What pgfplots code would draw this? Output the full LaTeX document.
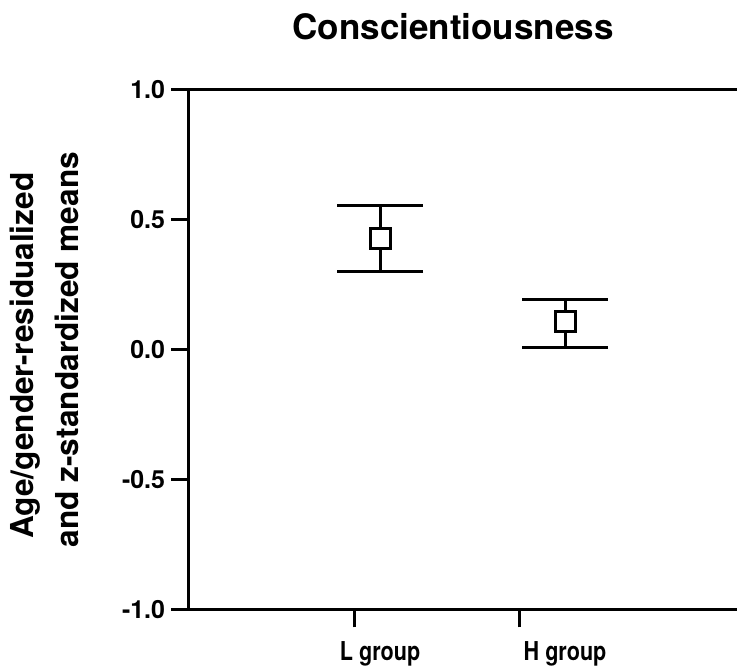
\documentclass[border=0pt]{standalone}
\usepackage{fontspec}
\setmainfont{TeX Gyre Heros}
\newfontfamily\condfont[FakeStretch=0.83]{TeX Gyre Heros}
\usepackage{pgfplots}
\pgfplotsset{compat=1.18}
\begin{document}
\begin{tikzpicture}
\begin{axis}[
  scale only axis, width=274pt, height=260.35pt,
  xmin=0, xmax=3.321, ymin=-1, ymax=1,
  clip=false,
  axis lines=left, axis line style={-, line width=1.5pt, black},
  tick align=outside, major tick length=8.75pt,
  tick style={line width=1.5pt, black},
  ytick={-1,-0.5,0,0.5,1},
  yticklabels={-1.0,-0.5,0.0,0.5,1.0},
  yticklabel style={font=\bfseries\fontsize{12.5}{13}\selectfont, inner sep=0pt, anchor=east, xshift=-3pt},
  xtick={1,2}, xticklabels={,},
  extra x ticks={1.158,2.279},
  extra x tick labels={L group,H group},
  extra x tick style={major tick length=0pt, tick style={draw=none},
    xticklabel style={font=\condfont\bfseries\fontsize{13}{14}\selectfont, inner sep=0pt, anchor=north, yshift=-15.5pt}},
  /pgf/number format/assume math mode=true,
  title={Conscientiousness},
  title style={font=\bfseries\fontsize{17.5}{18}\selectfont, at={(axis cs:1.6,1)}, anchor=base, yshift=19pt, inner sep=0pt},
  after end axis/.code={\draw[line width=1.5pt, black] (rel axis cs:0,1) -- (rel axis cs:1,1);},
]
\addplot[only marks, mark=square*, mark size=5.0pt,
  mark options={fill=white, draw=black, line width=1.5pt},
  error bars/.cd, y dir=both, y explicit,
  error bar style={line width=1.5pt, black},
  error mark options={rotate=90, mark size=21.5pt, line width=1.5pt, black}]
  coordinates {
    (1.158,0.425) += (0,0.127) -= (0,0.123)
    (2.279,0.107) += (0,0.086) -= (0,0.099)
  };
\end{axis}
\path (current axis.west) ++(-77.5pt,-3pt) node[rotate=90, anchor=base, inner sep=0pt,
  font=\bfseries\fontsize{15.8}{18}\selectfont] {Age/gender-residualized};
\path (current axis.west) ++(-55pt,0pt) node[rotate=90, anchor=base, inner sep=0pt,
  font=\bfseries\fontsize{15.8}{18}\selectfont] {and z-standardized means};
\pgfresetboundingbox
\path[use as bounding box] ([xshift=-94.5pt,yshift=-30pt]current axis.south west) rectangle ([yshift=44.65pt]current axis.north east);
\end{tikzpicture}
\end{document}
